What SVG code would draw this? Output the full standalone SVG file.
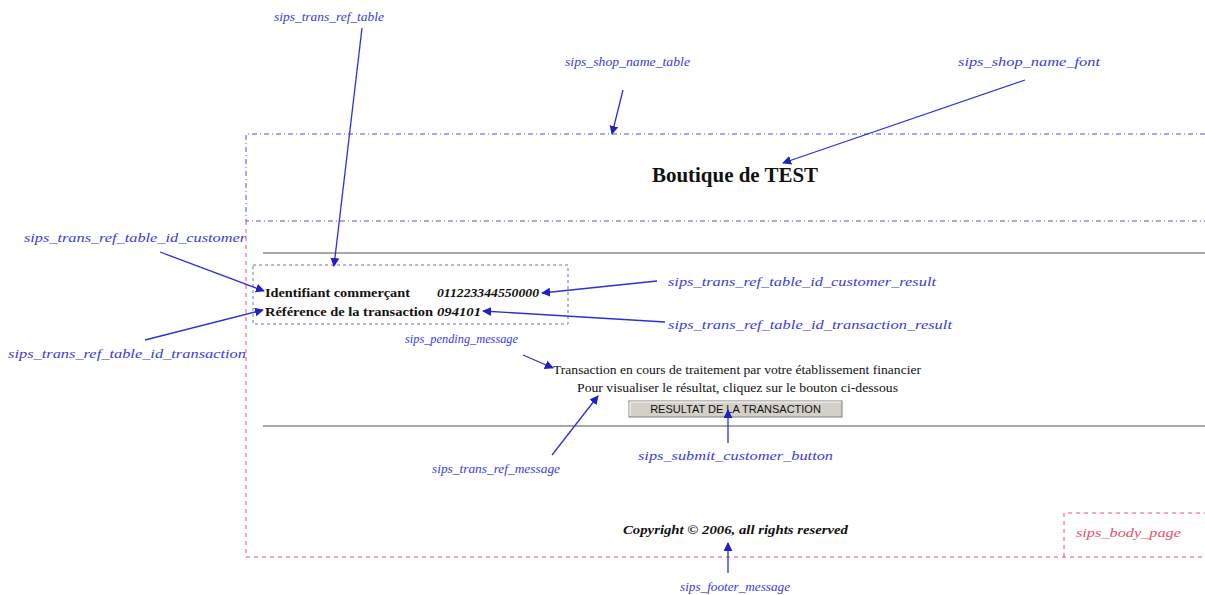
<svg xmlns="http://www.w3.org/2000/svg" width="1205" height="595" viewBox="0 0 1205 595">
<style>
.lbl{font-family:"Liberation Serif",serif;font-style:italic;font-size:12px;fill:#3a3adf}
.red{fill:#e8506a}
.conn line{stroke:#2f2fd6;stroke-width:1.3;marker-end:url(#ah)}
.page{font-family:"Liberation Serif",serif;fill:#111}
.b{font-weight:bold}
.i{font-style:italic}
.blueb{fill:none;stroke:#5050c8;stroke-width:1;stroke-dasharray:5 3 1 3}
.dot{fill:none;stroke:#6a6ad0;stroke-width:1;stroke-dasharray:3 3}
.redb{fill:none;stroke:#e8506a;stroke-width:1;stroke-dasharray:4 4}
.gray{stroke:#a8a8a8;stroke-width:2}
</style>
<defs>
<marker id="ah" viewBox="0 0 10 10" refX="9" refY="5" markerWidth="9" markerHeight="9" markerUnits="userSpaceOnUse" orient="auto">
<path d="M0,0 L10,5 L0,10 z" fill="#2020c8"/>
</marker>
</defs>
<rect width="1205" height="595" fill="#fff"/>
<g id="sips_body_page">
<path class="redb" d="M246,221 V557 H1205"/>
<path class="redb" d="M1064,557 V513 H1205"/>
<text class="lbl red" x="1076" y="537" textLength="105" lengthAdjust="spacingAndGlyphs">sips_body_page</text>
</g>
<g id="sips_shop_name_table">
<path class="blueb" d="M1205,134 H246 V221 H1205"/>
<text class="page b" x="652" y="182" font-size="20" textLength="166" lengthAdjust="spacingAndGlyphs">Boutique de TEST</text>
</g>
<g id="separators">
<line class="gray" x1="263" y1="253" x2="1205" y2="253"/>
<line class="gray" x1="263" y1="426" x2="1205" y2="426"/>
</g>
<g id="sips_trans_ref_table">
<rect class="dot" x="253" y="265" width="315" height="59"/>
<text class="page b" x="265" y="297" font-size="13.5" textLength="145" lengthAdjust="spacingAndGlyphs">Identifiant commerçant</text>
<text class="page b i" x="437" y="297" font-size="13.5" textLength="102" lengthAdjust="spacingAndGlyphs">011223344550000</text>
<text class="page b" x="265" y="316" font-size="13.5" textLength="168" lengthAdjust="spacingAndGlyphs">Référence de la transaction</text>
<text class="page b i" x="437" y="316" font-size="13.5" textLength="44" lengthAdjust="spacingAndGlyphs">094101</text>
</g>
<g id="messages">
<text class="page" x="553" y="374" font-size="12.5" textLength="368" lengthAdjust="spacingAndGlyphs">Transaction en cours de traitement par votre établissement financier</text>
<text class="page" x="577" y="392" font-size="12.5" textLength="321" lengthAdjust="spacingAndGlyphs">Pour visualiser le résultat, cliquez sur le bouton ci-dessous</text>
</g>
<g id="sips_submit_customer_button">
<rect x="629" y="401" width="213" height="16" fill="#d4d0c8" stroke="#808080"/>
<path d="M630,416 V402 H841" fill="none" stroke="#fff"/>
<text x="735.5" y="413" font-family="Liberation Sans,sans-serif" font-size="11" fill="#111" text-anchor="middle">RESULTAT DE LA TRANSACTION</text>
</g>
<g id="footer">
<text class="page b i" x="623" y="534" font-size="13" textLength="225" lengthAdjust="spacingAndGlyphs">Copyright © 2006, all rights reserved</text>
</g>
<g id="labels">
<text class="lbl" x="274" y="21" textLength="110" lengthAdjust="spacingAndGlyphs">sips_trans_ref_table</text>
<text class="lbl" x="565" y="66" textLength="125" lengthAdjust="spacingAndGlyphs">sips_shop_name_table</text>
<text class="lbl" x="958" y="66" textLength="142" lengthAdjust="spacingAndGlyphs">sips_shop_name_font</text>
<text class="lbl" x="24" y="242" textLength="222" lengthAdjust="spacingAndGlyphs">sips_trans_ref_table_id_customer</text>
<text class="lbl" x="8" y="358" textLength="238" lengthAdjust="spacingAndGlyphs">sips_trans_ref_table_id_transaction</text>
<text class="lbl" x="405" y="343" textLength="113" lengthAdjust="spacingAndGlyphs">sips_pending_message</text>
<text class="lbl" x="668" y="286" textLength="268" lengthAdjust="spacingAndGlyphs">sips_trans_ref_table_id_customer_result</text>
<text class="lbl" x="668" y="329" textLength="284" lengthAdjust="spacingAndGlyphs">sips_trans_ref_table_id_transaction_result</text>
<text class="lbl" x="432" y="473" textLength="128" lengthAdjust="spacingAndGlyphs">sips_trans_ref_message</text>
<text class="lbl" x="638" y="460" textLength="195" lengthAdjust="spacingAndGlyphs">sips_submit_customer_button</text>
<text class="lbl" x="680" y="591" textLength="110" lengthAdjust="spacingAndGlyphs">sips_footer_message</text>
</g>
<g id="connectors" class="conn">
<line x1="362" y1="28" x2="334" y2="266"/>
<line x1="623" y1="90" x2="612" y2="134"/>
<line x1="1025" y1="80" x2="783" y2="163"/>
<line x1="160" y1="252" x2="264" y2="291"/>
<line x1="145" y1="340" x2="263" y2="310"/>
<line x1="657" y1="281" x2="542" y2="293"/>
<line x1="665" y1="322" x2="483" y2="311"/>
<line x1="523" y1="355" x2="553" y2="368"/>
<line x1="552" y1="455" x2="598" y2="396"/>
<line x1="728" y1="443" x2="728" y2="410"/>
<line x1="728" y1="573" x2="728" y2="543"/>
</g>
</svg>
